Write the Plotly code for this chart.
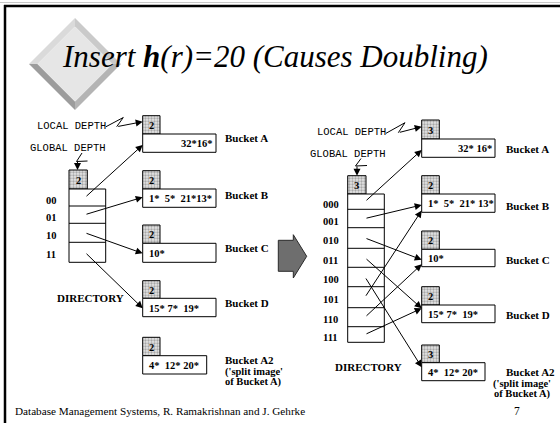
import plotly.graph_objects as go

# ---------------- data ----------------
title_text = "Insert <b>h</b>(r)=20 (Causes Doubling)"
footer_text = "Database Management Systems, R. Ramakrishnan and J. Gehrke"
page_number = "7"

bucket_names = ["Bucket A", "Bucket B", "Bucket C", "Bucket D", "Bucket A2"]
split_note = ["('split image'", "of Bucket A)"]
before_contents = ["32*16*", "1*  5*  21*13*", "10*", "15* 7*  19*", "4*  12* 20*"]
after_contents = ["32* 16*", "1*  5*  21* 13*", "10*", "15* 7*  19*", "4*  12* 20*"]
before_local_depth = [2, 2, 2, 2, 2]
after_local_depth = [3, 2, 2, 2, 3]
before_global_depth = 2
after_global_depth = 3
before_dir_labels = ["00", "01", "10", "11"]
after_dir_labels = ["000", "001", "010", "011", "100", "101", "110", "111"]
before_pointers = [0, 1, 2, 3]            # directory slot -> bucket index
after_pointers = [0, 1, 2, 3, 4, 1, 2, 3]

# ---------------- layout geometry (pixels) ----------------
LEFT = dict(
    bx=142.7, bw=[73.3, 73.3, 73.3, 73.3, 64.0], dw=17.3,
    btop=[115.7, 170.7, 225.0, 280.7, 337.3],
    bmid=[134.0, 189.0, 243.3, 298.3, 355.7],
    bbot=[152.3, 207.3, 262.3, 316.7, 374.0],
    label_x=223, label_dy=[3.5, 6.0, 5.0, 4.5, 4.5], note_x=223, note_anchor="left",
    dx0=69, dx1=105.7, dgw=18.3, dgtop=170,
    rows=[189, 206, 223.3, 242.3, 262.3], lab_x=51, ptr_x=85,
    ptr_frac=[0.6, 0.45, 0.53, 0.54],
    local_txt=(35, 125.7), global_txt=(28.3, 148.3),
    local_zig=[(106, 126.7), (123.3, 117.5), (116.7, 126.7)], local_tip=(142.7, 121.7),
    global_zig=[(82, 153), (76.5, 161.5), (87.5, 161)], global_arrow=((77.5, 160.5), (77.5, 170)),
    dir_txt=(90.8, 298.3),
)
RIGHT = dict(
    bx=421.7, bw=[73.3, 73.3, 73.3, 73.3, 63.3], dw=17.6,
    btop=[120.0, 175.7, 231.0, 286.7, 345.0],
    bmid=[139.0, 194.0, 249.3, 305.0, 362.7],
    bbot=[157.3, 212.3, 266.7, 322.7, 380.7],
    label_x=504, label_dy=[10, 11.5, 10.7, 10, 9.6], note_x=553, note_anchor="right",
    dx0=347.7, dx1=384.3, dgw=18.3, dgtop=175.7,
    rows=[194, 209.3, 227.7, 248.3, 267.3, 286.7, 307.7, 326.7, 342.3], lab_x=330.7, ptr_x=365,
    ptr_frac=[0.6, 0.6, 0.6, 0.19, 0.25, 0.9, 0.86, 0.19],
    local_txt=(315, 131.7), global_txt=(308.3, 154),
    local_zig=[(386, 133.3), (405, 122.7), (398.3, 132.7)], local_tip=(421.7, 126.7),
    global_zig=[(361, 158.5), (355.5, 166), (367, 165.5)], global_arrow=((357, 165), (357, 175.7)),
    dir_txt=(368.3, 366.7),
)

SERIF = "Liberation Serif"
MONO = "Liberation Mono"

fig = go.Figure()
annotations = []
shapes = []

PATTERN = dict(shape=".", fgcolor="#6a6a6a", bgcolor="#e4e4e4", size=3, solidity=0.45)


def rect(x0, y0, x1, y1, stipple=False, width=1):
    kw = dict(
        x=[x0, x1, x1, x0, x0], y=[y0, y0, y1, y1, y0], mode="lines",
        line=dict(color="black", width=width), fill="toself",
        hoverinfo="skip", showlegend=False,
    )
    if stipple:
        kw["fillpattern"] = PATTERN
        kw["fillcolor"] = "#e4e4e4"
    else:
        kw["fillcolor"] = "white"
    fig.add_trace(go.Scatter(**kw))


def text(x, y, s, size=11, family=SERIF, anchor="center", bold=True, color="black"):
    annotations.append(dict(
        x=x, y=y, xref="x", yref="y", text=(f"<b>{s}</b>" if bold else s),
        showarrow=False, xanchor=anchor, yanchor="middle",
        font=dict(family=family, size=size, color=color),
    ))


def arrow(x0, y0, x1, y1):
    annotations.append(dict(
        x=x1, y=y1, ax=x0, ay=y0, xref="x", yref="y", axref="x", ayref="y",
        text="", showarrow=True, arrowhead=2, arrowsize=1.4, arrowwidth=1,
        arrowcolor="black", standoff=0, startstandoff=0,
    ))


def polyline(pts):
    fig.add_trace(go.Scatter(
        x=[p[0] for p in pts], y=[p[1] for p in pts], mode="lines",
        line=dict(color="black", width=1), hoverinfo="skip", showlegend=False,
    ))


def draw_panel(G, contents, local_depth, global_depth, dir_labels, pointers):
    # buckets
    for i, name in enumerate(bucket_names):
        x0 = G["bx"]
        rect(x0, G["btop"][i], x0 + G["dw"], G["bmid"][i], stipple=True)
        text(x0 + G["dw"] / 2, (G["btop"][i] + G["bmid"][i]) / 2 + 0.5, str(local_depth[i]), size=10.5)
        rect(x0, G["bmid"][i], x0 + G["bw"][i], G["bbot"][i])
        cy = (G["bmid"][i] + G["bbot"][i]) / 2 + 0.5
        if i == 0:
            text(x0 + G["bw"][i] - 1.5, cy, contents[i], size=10.5, anchor="right")
        else:
            text(x0 + 4, cy, contents[i], size=10.5, anchor="left")
        text(G["label_x"], G["bmid"][i] + G["label_dy"][i], name, size=11, anchor="left")
    # split image note
    by = G["bmid"][4] + G["label_dy"][4]
    for k, s in enumerate(split_note):
        text(G["note_x"], by + 11.5 + k * 10.5, s, size=10.5, anchor=G["note_anchor"])
    # global depth box + directory
    rect(G["dx0"], G["dgtop"], G["dx0"] + G["dgw"], G["rows"][0], stipple=True)
    text(G["dx0"] + G["dgw"] / 2, (G["dgtop"] + G["rows"][0]) / 2 + 0.5, str(global_depth), size=10.5)
    rows = G["rows"]
    rect(G["dx0"], rows[0], G["dx1"], rows[-1])
    for r in rows[1:-1]:
        polyline([(G["dx0"], r), (G["dx1"], r)])
    for j, lab in enumerate(dir_labels):
        cy = (rows[j] + rows[j + 1]) / 2
        text(G["lab_x"], cy + 2.5, lab, size=10.5)
        b = pointers[j]
        ty = G["bmid"][b] + G["ptr_frac"][j] * (G["bbot"][b] - G["bmid"][b])
        arrow(G["ptr_x"], cy, G["bx"], ty)
    # labels
    text(G["local_txt"][0], G["local_txt"][1], "LOCAL DEPTH", size=10.5, family=MONO, anchor="left", bold=False)
    text(G["global_txt"][0], G["global_txt"][1], "GLOBAL DEPTH", size=10.5, family=MONO, anchor="left", bold=False)
    polyline(G["local_zig"])
    arrow(G["local_zig"][-1][0], G["local_zig"][-1][1], G["local_tip"][0], G["local_tip"][1])
    polyline(G["global_zig"])
    (ga0, ga1) = G["global_arrow"]
    arrow(ga0[0], ga0[1], ga1[0], ga1[1])
    text(G["dir_txt"][0], G["dir_txt"][1], "DIRECTORY", size=11)


draw_panel(LEFT, before_contents, before_local_depth, before_global_depth,
           before_dir_labels, before_pointers)
draw_panel(RIGHT, after_contents, after_local_depth, after_global_depth,
           after_dir_labels, after_pointers)

# big block arrow between panels
fig.add_trace(go.Scatter(
    x=[278.3, 293.3, 293.3, 306.7, 293.3, 293.3, 278.3, 278.3],
    y=[240.3, 240.3, 234.7, 256.3, 278.0, 271.3, 271.3, 240.3],
    mode="lines", fill="toself", fillcolor="#6e6e6e",
    line=dict(color="#2a2a2a", width=1), hoverinfo="skip", showlegend=False,
))

# beveled diamond ornament
cx, cy, R, r = 75, 64, 46, 37.5
T, Rv, B, L = (cx, cy - R), (cx + R, cy), (cx, cy + R), (cx - R, cy)
t, rv, b, l = (cx, cy - r), (cx + r, cy), (cx, cy + r), (cx - r, cy)


def poly_path(pts):
    return "M " + " L ".join(f"{p[0]},{p[1]}" for p in pts) + " Z"


for pts, col in [
    ([L, T, t, l], "#dadada"),
    ([T, Rv, rv, t], "#cacaca"),
    ([Rv, B, b, rv], "#b4b4b4"),
    ([B, L, l, b], "#9c9c9c"),
    ([t, rv, b, l], "#e6e6e6"),
]:
    shapes.append(dict(type="path", path=poly_path(pts), xref="x", yref="y",
                       fillcolor=col, line=dict(width=0), layer="below"))

# slide frame
shapes.append(dict(type="line", x0=0, x1=560, y0=2.5, y1=2.5, xref="x", yref="y",
                   line=dict(color="#c8c8c8", width=1)))
shapes.append(dict(type="line", x0=4, x1=560, y0=6, y1=6, xref="x", yref="y",
                   line=dict(color="black", width=2.5)))
shapes.append(dict(type="line", x0=5, x1=5, y0=5, y1=423, xref="x", yref="y",
                   line=dict(color="black", width=2.5)))

# title + footer
annotations.append(dict(
    x=275, y=56, xref="x", yref="y", text=f"<i>{title_text}</i>", showarrow=False,
    xanchor="center", yanchor="middle",
    font=dict(family=SERIF, size=31, color="black"),
))
text(13, 410.5, footer_text, size=11.2, anchor="left", bold=False)
text(522, 410.5, page_number, size=11.5, anchor="right", bold=False)

fig.update_layout(
    width=560, height=423, margin=dict(l=0, r=0, t=0, b=0),
    paper_bgcolor="white", plot_bgcolor="white",
    xaxis=dict(range=[0, 560], visible=False, fixedrange=True),
    yaxis=dict(range=[423, 0], visible=False, fixedrange=True),
    annotations=annotations, shapes=shapes, showlegend=False,
)
fig.write_html(
    "out.html",
    config={"displayModeBar": False},
    post_script="document.body.style.margin='0';document.body.style.overflow='hidden';",
)
